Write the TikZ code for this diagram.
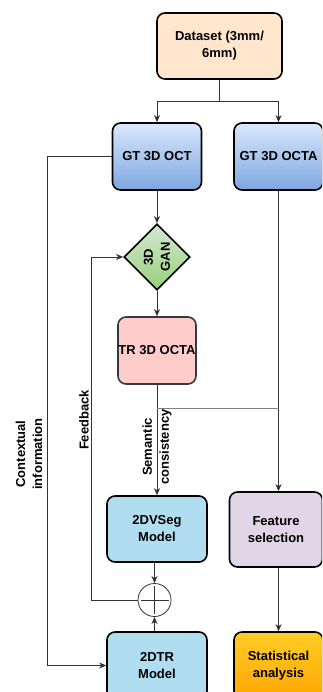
\documentclass[tikz,border=0pt]{standalone}
\usepackage{fontspec}
\setmainfont{Liberation Sans}
\usetikzlibrary{shapes.geometric, arrows.meta}

\definecolor{peach}{HTML}{FFE6CC}
\definecolor{bluetop}{HTML}{DAE8FC}
\definecolor{bluebot}{HTML}{7EA6E0}
\definecolor{greentop}{HTML}{D5E8D4}
\definecolor{greenbot}{HTML}{97D077}
\definecolor{pinkfill}{HTML}{FFCCCC}
\definecolor{pinkline}{HTML}{36393D}
\definecolor{skyfill}{HTML}{B1DDF0}
\definecolor{lilac}{HTML}{E1D5E7}
\definecolor{ambertop}{HTML}{FFCD28}
\definecolor{amberbot}{HTML}{FFA500}
\definecolor{wirecol}{HTML}{333333}

\begin{document}
\begin{tikzpicture}[x = 1pt, y = -1pt, >= {Stealth[length = 7pt, width = 6pt, inset = 2pt]},
        font = \fontsize{13}{17}\selectfont\bfseries,
        block/.style = {draw, line width = 1.6pt, rounded corners = 8pt, align = center, inner sep = 0pt},
        wire/.style = {draw = wirecol, line width = 0.9pt},
        sidetext/.style = {rotate = 90, align = center}]
            \clip (0, 0) rectangle (322, 692);

            % Boxes
            \node[block, fill = peach, minimum width = 125pt, minimum height = 66pt] (dataset) at (219.5, 46) {Dataset (3mm/\\6mm)};
            \node[block, top color = bluetop, bottom color = bluebot, minimum width = 89pt, minimum height = 67pt] (gtoct) at (157, 156.5) {GT 3D OCT};
            \node[block, top color = bluetop, bottom color = bluebot, minimum width = 89pt, minimum height = 67pt] (gtocta) at (278.5, 156.5) {GT 3D OCTA};
            \node[diamond, draw, line width = 1.6pt, top color = greentop, bottom color = greenbot, minimum width = 66pt, minimum height = 66pt, inner sep = 0pt] (gan) at (157, 257) {};
            \node[sidetext] (gantext) at (gan) {3D\\GAN};
            \node[block, draw = pinkline, fill = pinkfill, minimum width = 78pt, minimum height = 67pt] (tr) at (157, 350.5) {TR 3D OCTA};
            \node[block, fill = skyfill, minimum width = 100pt, minimum height = 66pt] (vseg) at (157, 529) {2DVSeg\\Model};
            \node[block, fill = lilac, minimum width = 93pt, minimum height = 75pt] (feat) at (276, 529.5) {Feature\\selection};
            \node[block, fill = skyfill, minimum width = 100pt, minimum height = 67pt] (dtr) at (157, 665.5) {2DTR\\Model};
            \node[block, top color = ambertop, bottom color = amberbot, minimum width = 89pt, minimum height = 67pt] (stat) at (278.5, 665.5) {Statistical\\analysis};

            % Sum junction
            \node[circle, draw = wirecol, fill = white, line width = 0.8pt, minimum size = 33pt, inner sep = 0pt] (sum) at (154.5, 600) {};
            \draw[wire, line width = 0.8pt] ([xshift = -14pt] sum.center) -- ([xshift = 14pt] sum.center);
            \draw[wire, line width = 0.8pt] ([yshift = -14pt] sum.center) -- ([yshift = 14pt] sum.center);

            % Dataset split
            \coordinate (split) at (219.5, 101);
            \draw[wire] (dataset) -- (split);
            \draw[wire, ->] (split) -| (gtoct);
            \draw[wire, ->] (split) -| (gtocta);

            % Contextual information path
            \coordinate (ctxturn) at (47, 156.5);
            \draw[wire, ->] (gtoct.west) -- (ctxturn) |- (dtr.west);

            % GAN chain
            \draw[wire, ->] (gtoct) -- (gan);
            \draw[wire, ->] (gan) -- (tr);
            \draw[wire, ->] (tr) -- (vseg);

            % OCTA branch
            \draw[wire, ->] (gtocta) -- (gtocta |- feat.north);
            \coordinate (merge) at (157, 408);
            \draw[gray, line width = 0.9pt] (merge) -- (merge -| gtocta);
            \draw[wire, ->] (feat.south -| stat) -- (stat);

            % Fusion and feedback
            \draw[wire, ->] (vseg.south -| sum) -- (sum);
            \draw[wire, ->] (dtr.north -| sum) -- (sum);
            \coordinate (fbturn) at (91, 600);
            \draw[wire, ->] (sum) -- (fbturn) |- (gan);

            % Path labels
            \node[sidetext] (ctxlabel) at (29, 454) {Contextual\\information};
            \node[sidetext] (fblabel) at (84, 420) {Feedback};
            \node[sidetext] (semlabel) at (157, 447) {Semantic\\consistency};
        \end{tikzpicture}
\end{document}
